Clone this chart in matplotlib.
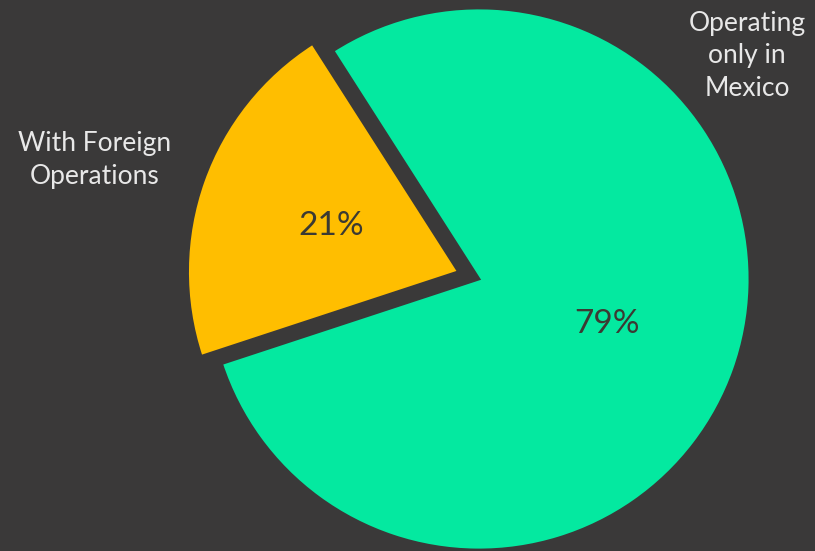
import matplotlib.pyplot as plt

labels = ['With Foreign\nOperations', 'Operating\nonly in\nMexico']
shares = [21, 79]
colors = ['#FFBE00', '#04E9A0']
explode = [0.08, 0]

bg = '#3a3939'

fig = plt.figure(figsize=(8.15, 5.51), dpi=100, facecolor=bg)
ax = fig.add_axes([0.2552, 0.0018, 0.6650, 0.9837])
ax.set_facecolor(bg)

wedges, texts, autotexts = ax.pie(
    shares, colors=colors, explode=explode, startangle=122.6,
    autopct='%.0f%%', pctdistance=0.5,
    wedgeprops=dict(edgecolor=bg, linewidth=2),
    textprops=dict(color='#3b3a33', fontsize=24, family='Lato'))

ax.set_xlim(-1, 1)
ax.set_ylim(-1, 1)
ax.axis('off')

# category labels sit outside the pie
fig.text(95 / 815, 1 - 160 / 551, labels[0], ha='center', va='center',
         color='#e8e8e8', fontsize=19, family='Lato', linespacing=1.4)
fig.text(747 / 815, 1 - 56 / 551, labels[1], ha='center', va='center',
         color='#e8e8e8', fontsize=19, family='Lato', linespacing=1.35)

fig.savefig('out.png', dpi=100, facecolor=bg)
